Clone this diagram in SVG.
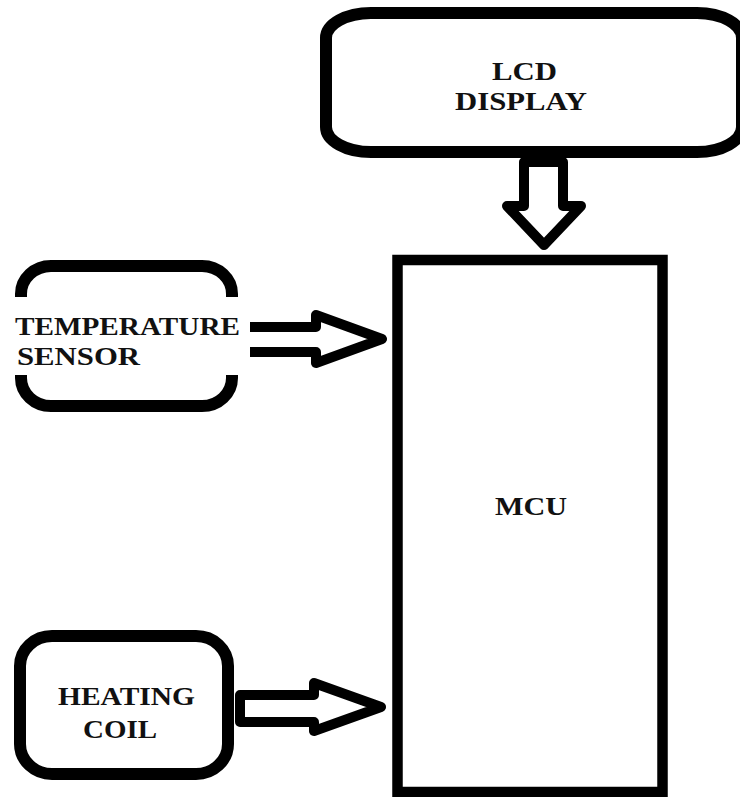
<svg xmlns="http://www.w3.org/2000/svg" width="740" height="797" viewBox="0 0 740 797">
<style>
.box{fill:none;stroke:#000;stroke-width:12;stroke-linejoin:round}
.arr{fill:none;stroke:#000;stroke-width:10;stroke-linejoin:round}
.lbl{font-weight:bold;font-size:25px;fill:#111}
</style>
<rect width="740" height="797" fill="#fff"/>
<g id="lcd">
<rect class="box" x="326" y="13" width="416" height="139" rx="45" ry="25" stroke-width="11"/>
<text class="lbl" font-family="Liberation Serif, DejaVu Serif, serif" x="492" y="80" textLength="65" lengthAdjust="spacingAndGlyphs">LCD</text>
<text class="lbl" font-family="Liberation Serif, DejaVu Serif, serif" x="455" y="110" textLength="132" lengthAdjust="spacingAndGlyphs">DISPLAY</text>
</g>
<g id="mcu">
<rect x="397.5" y="260" width="265" height="532" fill="none" stroke="#000" stroke-width="10.5"/>
<text class="lbl" font-family="Liberation Serif, DejaVu Serif, serif" x="495" y="515" textLength="72" lengthAdjust="spacingAndGlyphs">MCU</text>
</g>
<g id="temp">
<path class="box" d="M21,297 V294 A30,28 0 0 1 51,266 H202 A30,28 0 0 1 232,294 V297 M232,375 V378 A30,28 0 0 1 202,406 H51 A30,28 0 0 1 21,378 V375"/>
<text class="lbl" font-family="Liberation Serif, DejaVu Serif, serif" x="15" y="335" textLength="225" lengthAdjust="spacingAndGlyphs">TEMPERATURE</text>
<text class="lbl" font-family="Liberation Serif, DejaVu Serif, serif" x="17" y="365" textLength="123" lengthAdjust="spacingAndGlyphs">SENSOR</text>
</g>
<g id="heat">
<rect class="box" x="20" y="636" width="208" height="138" rx="32" ry="30"/>
<text class="lbl" font-family="Liberation Serif, DejaVu Serif, serif" x="58" y="705" textLength="137" lengthAdjust="spacingAndGlyphs">HEATING</text>
<text class="lbl" font-family="Liberation Serif, DejaVu Serif, serif" x="83" y="738" textLength="74" lengthAdjust="spacingAndGlyphs">COIL</text>
</g>
<g id="connectors">
<path class="arr" stroke-width="12" d="M524,162 V206 H507 L544,245 L581,206 H563 V162 Z"/>
<path class="arr" d="M250,327 H316 V315 L382,339 L316,363 V352 H250"/>
<path class="arr" d="M240,695 H314 V683 L381,707 L314,731 V722 H240 Z"/>
</g>
</svg>
